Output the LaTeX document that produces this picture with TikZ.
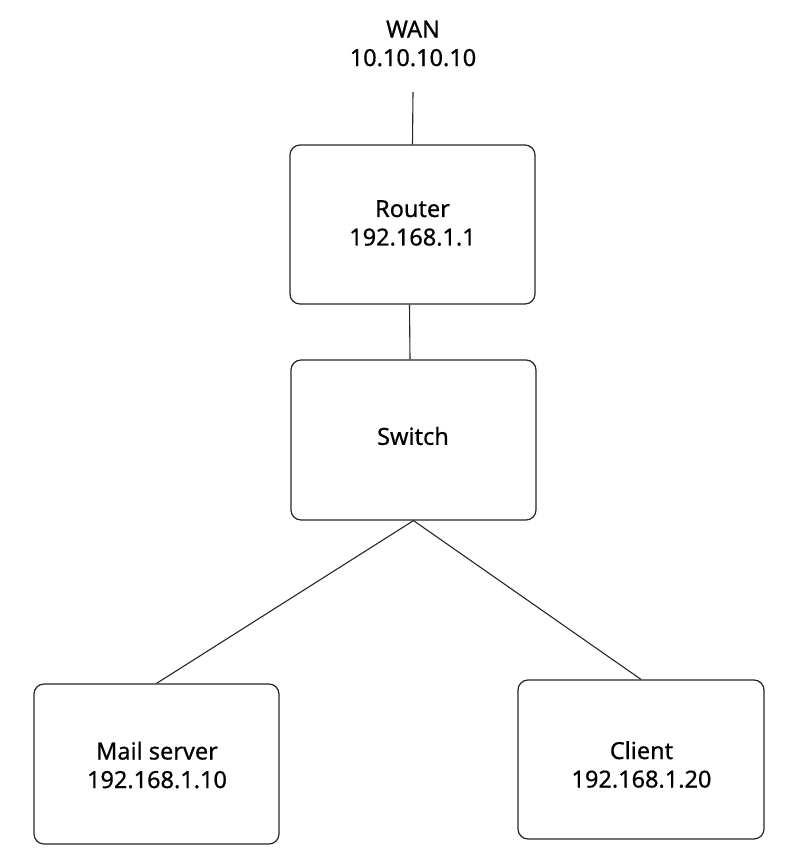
\documentclass[tikz,border=0pt]{standalone}
\usepackage{fontspec}
\setmainfont[FakeBold=0.6]{Noto Sans}
\begin{document}
\begin{tikzpicture}[x=1pt,y=-1pt,
  devbox/.style={draw=black!85, line width=1.2pt, rounded corners=10pt, inner sep=0pt},
  lbl/.style={align=center, font=\fontsize{23.5}{28.5}\selectfont\bfseries, inner sep=0pt},
  link/.style={draw=black!85, line width=1.1pt}]
\useasboundingbox (0,0) rectangle (798,863);
\node[lbl] (wan) at (413,43.5) {WAN\\10.10.10.10};
\coordinate (wanend) at (413,92);
\node[devbox, minimum width=245pt, minimum height=159pt] (router) at (412.5,224.5) {};
\node[devbox, minimum width=245pt, minimum height=160pt] (switch) at (413.5,440) {};
\node[devbox, minimum width=245pt, minimum height=160pt] (mail) at (156.5,764) {};
\node[devbox, minimum width=246pt, minimum height=159pt] (client) at (641,759.5) {};
\node[lbl] (routertext) at (412.5,223) {Router\\192.168.1.1};
\node[lbl] (switchtext) at (413,436) {Switch};
\node[lbl] (mailtext) at (157,765) {Mail server\\192.168.1.10};
\node[lbl] (clienttext) at (641.5,764.5) {Client\\192.168.1.20};
\draw[link] (wanend) -- (router.north);
\draw[link] ([xshift=-3pt]router.south) -- ([xshift=-3.5pt]switch.north);
\draw[link] (switch.south) -- (mail.north);
\draw[link] (switch.south) -- (client.north);
\end{tikzpicture}
\end{document}
